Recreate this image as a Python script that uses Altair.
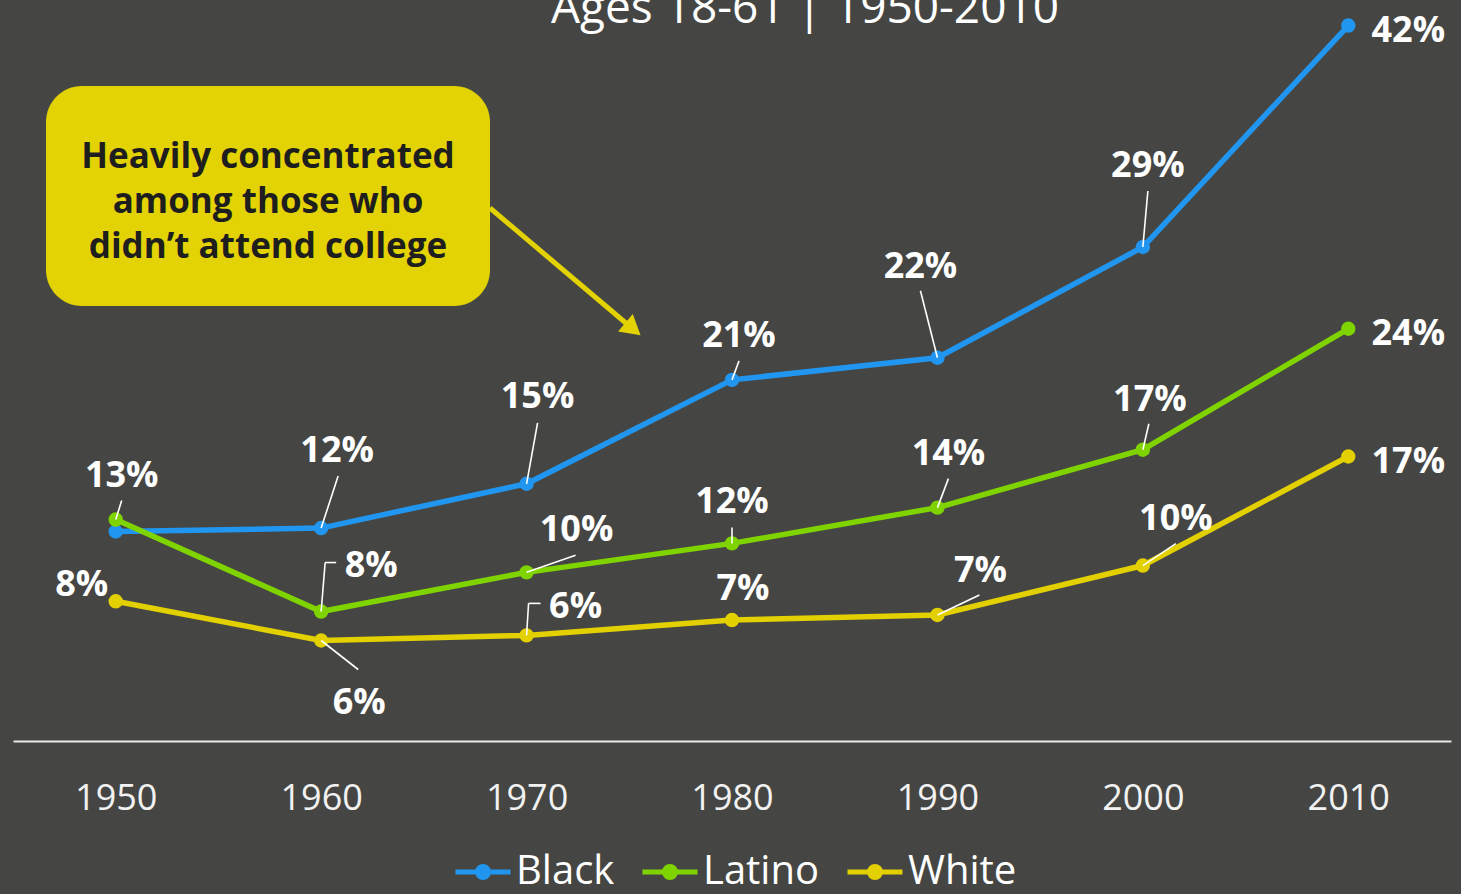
import altair as alt
import pandas as pd

# ---------------- data ----------------
years = [1950, 1960, 1970, 1980, 1990, 2000, 2010]
groups = ["Black", "Latino", "White"]
black = [12.3, 12.5, 15.1, 21.2, 22.5, 29.0, 42.0]
latino = [13.0, 7.6, 9.9, 11.6, 13.7, 17.1, 24.2]
white = [8.2, 5.9, 6.2, 7.1, 7.4, 10.3, 16.7]

black_labels = ["", "12%", "15%", "21%", "22%", "29%", "42%"]
latino_labels = ["13%", "8%", "10%", "12%", "14%", "17%", "24%"]
white_labels = ["8%", "6%", "6%", "7%", "7%", "10%", "17%"]

colors = ["#2196F0", "#7FD400", "#E3D000"]

title_text = "Ages 18-61 | 1950-2010"
callout_lines = ["Heavily concentrated", "among those who", "didn\u2019t attend college"]

# label placement offsets in screen pixels relative to each point: (dx, dy)
black_offsets = [None, (16, -66), (11, -76), (7, -33), (-17, -80), (5, -70), (60, 16)]
latino_offsets = [(6, -33), (50, -35), (50, -31), (0, -30), (11, -43), (7, -39), (60, 16)]
white_offsets = [(-34, -5), (38, 74), (49, -17), (11, -20), (43, -33), (33, -36), (60, 16)]

# leader polylines (pixel offsets from point, ending at the point)
black_leaders = [None, [(17, -52), (0, 0)], [(11, -61), (0, 0)], [(7, -19), (0, 0)],
                 [(-17, -67), (0, 0)], [(5, -56), (0, 0)], None]
latino_leaders = [[(6, -19), (0, 0)], [(15, -49), (4, -49), (0, 0)], [(49, -17), (0, 0)],
                  [(0, -16), (0, 0)], [(11, -29), (0, 0)], [(6, -26), (0, 0)], None]
white_leaders = [None, [(37, 29), (0, 0)], [(14, -32), (2, -32), (0, 0)], None,
                 [(42, -20), (0, 0)], [(33, -22), (0, 0)], None]

# ---------------- layout ----------------
W, H = 1438, 741
X_DOM = [1945, 2015]
Y_DOM = [0, 43.5]
PXY = W / (X_DOM[1] - X_DOM[0])
PXP = H / (Y_DOM[1] - Y_DOM[0])

series = {"Black": black, "Latino": latino, "White": white}
labels = {"Black": black_labels, "Latino": latino_labels, "White": white_labels}
offsets = {"Black": black_offsets, "Latino": latino_offsets, "White": white_offsets}
leaders = {"Black": black_leaders, "Latino": latino_leaders, "White": white_leaders}

rows, lab_rows, seg_rows = [], [], []
for g in groups:
    for i, yr in enumerate(years):
        v = series[g][i]
        rows.append({"year": yr, "group": g, "value": v})
        off = offsets[g][i]
        if off is not None and labels[g][i]:
            lab_rows.append({"lx": yr + off[0] / PXY, "ly": v - off[1] / PXP,
                             "text": labels[g][i]})
        ld = leaders[g][i]
        if ld:
            for a, b in zip(ld[:-1], ld[1:]):
                seg_rows.append({"x1": yr + a[0] / PXY, "y1": v - a[1] / PXP,
                                 "x2": yr + b[0] / PXY, "y2": v - b[1] / PXP})

df = pd.DataFrame(rows)
lab_df = pd.DataFrame(lab_rows)
seg_df = pd.DataFrame(seg_rows)

xs = alt.Scale(domain=X_DOM, nice=False, zero=False)
ys = alt.Scale(domain=Y_DOM, nice=False, zero=True)
cs = alt.Scale(domain=groups, range=colors)

legend_path = "M-1,0H1M0.2,0A0.2,0.2,0,1,1,-0.2,0A0.2,0.2,0,1,1,0.2,0Z"

x_enc = alt.X("year:Q", scale=xs, title=None,
              axis=alt.Axis(values=years, format="d", ticks=False, grid=False,
                            domainColor="#E8E8E8", domainWidth=2,
                            labelFontSize=36, labelColor="#F2F2F2",
                            labelFont="Open Sans", labelPadding=40))
y_enc = alt.Y("value:Q", scale=ys, axis=None)

lines = alt.Chart(df).mark_line(strokeWidth=5.5).encode(
    x=x_enc, y=y_enc,
    color=alt.Color("group:N", scale=cs,
                    legend=alt.Legend(orient="none", legendX=440, legendY=842,
                                      direction="horizontal", title=None,
                                      symbolType=legend_path, symbolSize=3025,
                                      symbolStrokeWidth=5,
                                      labelFontSize=40, labelColor="#FFFFFF",
                                      labelFont="Open Sans", labelOffset=3,
                                      columnPadding=17)))

points = alt.Chart(df).mark_point(filled=True, size=130, strokeWidth=3, opacity=1).encode(
    x=alt.X("year:Q", scale=xs), y=alt.Y("value:Q", scale=ys),
    fill=alt.Fill("group:N", scale=cs, legend=None),
    stroke=alt.Stroke("group:N", scale=cs, legend=None))

leader_rules = alt.Chart(seg_df).mark_rule(color="#FFFFFF", strokeWidth=1.6).encode(
    x=alt.X("x1:Q", scale=xs), y=alt.Y("y1:Q", scale=ys),
    x2="x2:Q", y2="y2:Q")

label_text = alt.Chart(lab_df).mark_text(
    font="Open Sans", fontWeight="bold", fontSize=36, color="#FFFFFF",
    align="center", baseline="alphabetic").encode(
    x=alt.X("lx:Q", scale=xs), y=alt.Y("ly:Q", scale=ys), text="text:N")

one = alt.Data(values=[{}])

box = alt.Chart(one).mark_rect(color="#E4D304", cornerRadius=36).encode(
    x=alt.value(33), x2=alt.value(477), y=alt.value(86), y2=alt.value(306))

box_text = alt.Chart(one).mark_text(
    text=callout_lines, font="Open Sans", fontWeight="bold", fontSize=35,
    color="#1E1E1E", align="center", baseline="alphabetic", lineHeight=45).encode(
    x=alt.value(255), y=alt.value(168))

arrow = alt.Chart(one).mark_rule(color="#E4D304", strokeWidth=5).encode(
    x=alt.value(477), y=alt.value(208), x2=alt.value(614), y2=alt.value(324))

arrow_head = alt.Chart(one).mark_point(
    shape="triangle-up", filled=True, color="#E4D304", size=520, angle=130,
    opacity=1).encode(x=alt.value(620), y=alt.value(329))

title = alt.Chart(one).mark_text(
    text=title_text, font="Open Sans", fontSize=46, color="#FFFFFF",
    align="center", baseline="alphabetic").encode(x=alt.value(792), y=alt.value(23))

chart = alt.layer(lines, points, leader_rules, label_text, box, box_text,
                  arrow, arrow_head, title).properties(
    width=W, height=H, background="#454643",
    padding={"left": 13, "top": 0, "right": 10, "bottom": 153},
    autosize=alt.AutoSizeParams(type="none"),
).configure_view(stroke=None)

chart.save("out.html", embed_options={"renderer": "svg", "actions": False})
